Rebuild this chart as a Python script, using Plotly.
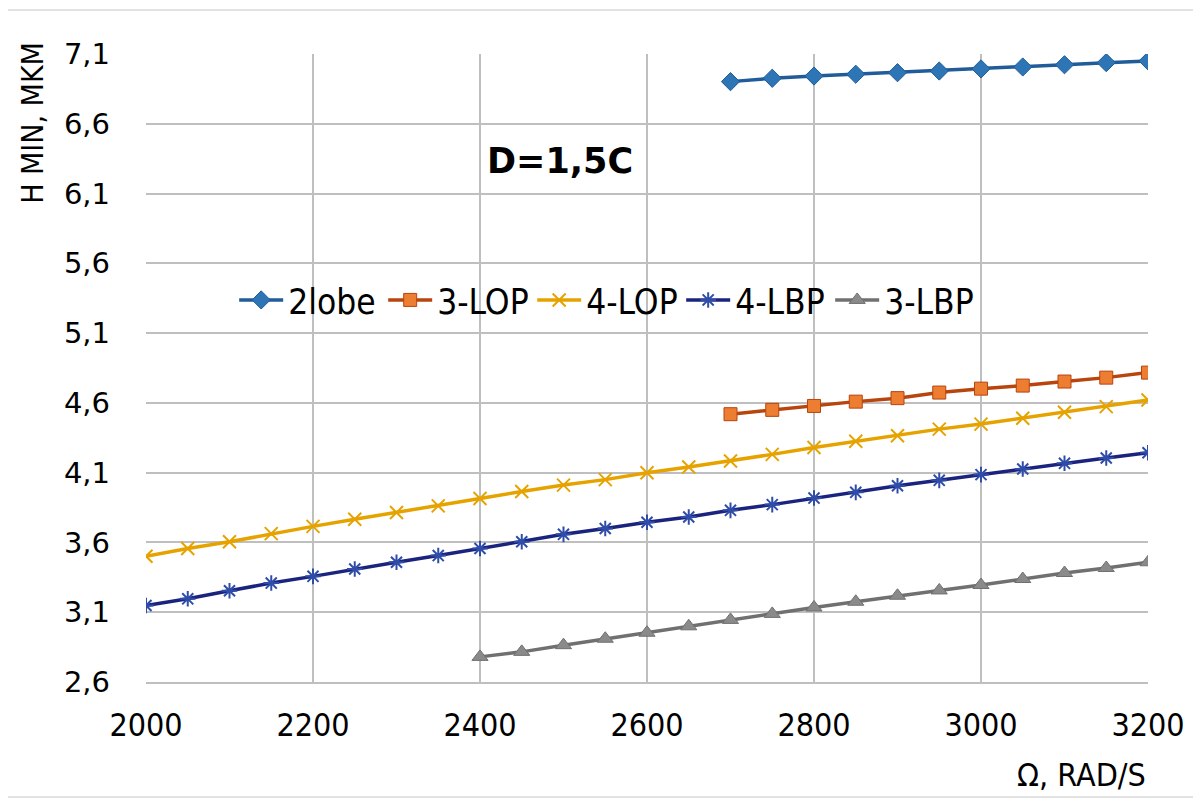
import plotly.graph_objects as go

# ---------------- data ----------------
x_2lobe = [2700, 2750, 2800, 2850, 2900, 2950, 3000, 3050, 3100, 3150, 3200]
y_2lobe = [6.902, 6.926, 6.942, 6.955, 6.966, 6.978, 6.993, 7.007, 7.023, 7.038, 7.050]

x_3lop = [2700, 2750, 2800, 2850, 2900, 2950, 3000, 3050, 3100, 3150, 3200]
y_3lop = [4.519, 4.550, 4.578, 4.609, 4.634, 4.674, 4.702, 4.724, 4.753, 4.781, 4.817]

x_4lop = [2000, 2050, 2100, 2150, 2200, 2250, 2300, 2350, 2400, 2450, 2500, 2550, 2600,
          2650, 2700, 2750, 2800, 2850, 2900, 2950, 3000, 3050, 3100, 3150, 3200]
y_4lop = [3.501, 3.557, 3.605, 3.663, 3.715, 3.766, 3.814, 3.862, 3.915, 3.965, 4.011, 4.050, 4.100,
          4.141, 4.184, 4.231, 4.280, 4.325, 4.365, 4.412, 4.448, 4.490, 4.533, 4.573, 4.621]

x_4lbp = [2000, 2050, 2100, 2150, 2200, 2250, 2300, 2350, 2400, 2450, 2500, 2550, 2600,
          2650, 2700, 2750, 2800, 2850, 2900, 2950, 3000, 3050, 3100, 3150, 3200]
y_4lbp = [3.148, 3.196, 3.254, 3.309, 3.357, 3.410, 3.458, 3.506, 3.557, 3.605, 3.658, 3.700, 3.745,
          3.782, 3.830, 3.871, 3.918, 3.959, 4.006, 4.045, 4.086, 4.126, 4.167, 4.205, 4.243]

x_3lbp = [2400, 2450, 2500, 2550, 2600, 2650, 2700, 2750, 2800, 2850, 2900, 2950, 3000,
          3050, 3100, 3150, 3200]
y_3lbp = [2.780, 2.816, 2.864, 2.910, 2.953, 2.999, 3.045, 3.088, 3.134, 3.175, 3.218, 3.256, 3.295,
          3.338, 3.381, 3.417, 3.458]

x_ticks = [2000, 2200, 2400, 2600, 2800, 3000, 3200]
y_ticks = [2.6, 3.1, 3.6, 4.1, 4.6, 5.1, 5.6, 6.1, 6.6, 7.1]
y_tick_text = ["2,6", "3,1", "3,6", "4,1", "4,6", "5,1", "5,6", "6,1", "6,6", "7,1"]

series_names = ["2lobe", "3-LOP", "4-LOP", "4-LBP", "3-LBP"]

# ---------------- figure ----------------
fig = go.Figure()

fig.add_trace(go.Scatter(
    x=x_2lobe, y=y_2lobe, name=series_names[0], mode="lines+markers",
    line=dict(color="#1F5C99", width=3.5),
    marker=dict(symbol="diamond", size=14, color="#2E75B6", line=dict(color="#1F5C99", width=1))))

fig.add_trace(go.Scatter(
    x=x_3lop, y=y_3lop, name=series_names[1], mode="lines+markers",
    line=dict(color="#B8440E", width=3.5),
    marker=dict(symbol="square", size=13, color="#ED7D31", line=dict(color="#B8440E", width=1))))

fig.add_trace(go.Scatter(
    x=x_4lop, y=y_4lop, name=series_names[2], mode="lines+markers",
    line=dict(color="#E6A300", width=3.5),
    marker=dict(symbol="x-thin-open", size=13, color="#E6A300", line=dict(color="#E6A300", width=2))))

fig.add_trace(go.Scatter(
    x=x_4lbp, y=y_4lbp, name=series_names[3], mode="lines+markers",
    line=dict(color="#1A237E", width=3.5),
    marker=dict(symbol="asterisk-open", size=13, color="#2F4DA8", line=dict(color="#2F4DA8", width=2))))

fig.add_trace(go.Scatter(
    x=x_3lbp, y=y_3lbp, name=series_names[4], mode="lines+markers",
    line=dict(color="#707070", width=3.5),
    marker=dict(symbol="triangle-up", size=14, color="#8A8A8A", line=dict(color="#707070", width=1))))

fig.update_layout(
    width=1193, height=790,
    margin=dict(l=138, r=53, t=46, b=116),
    paper_bgcolor="white", plot_bgcolor="white",
    showlegend=True,
    legend=dict(orientation="h", x=0.088, y=0.608, xanchor="left", yanchor="middle",
                bgcolor="rgba(0,0,0,0)",
                font=dict(family="DejaVu Sans Condensed", size=35, color="black"),
                itemwidth=44, tracegroupgap=0,
                entrywidth=90, entrywidthmode="pixels"),
    xaxis=dict(range=[2000, 3200], tickvals=x_ticks, showgrid=True, gridcolor="#BFBFBF", gridwidth=2,
               zeroline=False, showline=True, linecolor="#BFBFBF", linewidth=2, ticks="",
               tickfont=dict(family="DejaVu Sans Condensed", size=32, color="black"),
               ticklabelstandoff=14),
    yaxis=dict(range=[2.6, 7.1], tickvals=y_ticks, ticktext=y_tick_text, showgrid=True,
               gridcolor="#BFBFBF", gridwidth=2, zeroline=False, showline=False, ticks="",
               tickfont=dict(family="DejaVu Sans", size=29, color="black"),
               ticklabelstandoff=35),
    annotations=[
        dict(text="D=1,5C", xref="paper", yref="paper", x=0.413, y=0.83, showarrow=False,
             xanchor="center", yanchor="middle",
             font=dict(family="DejaVu Sans", size=35, color="black", weight="bold")),
        dict(text="H MIN, MKM", xref="paper", yref="paper", x=-0.114, y=0.89, showarrow=False,
             textangle=-90, xanchor="center", yanchor="middle",
             font=dict(family="DejaVu Sans Condensed", size=30, color="black")),
        dict(text="Ω, RAD/S", xref="paper", yref="paper", x=1.0, y=-0.148, showarrow=False,
             xanchor="right", yanchor="middle",
             font=dict(family="DejaVu Sans Condensed", size=32, color="black")),
    ],
    shapes=[
        dict(type="rect", xref="paper", yref="paper", x0=-0.1387, x1=1.0509, y0=-0.183, y1=1.070,
             line=dict(color="#D9D9D9", width=1.5), fillcolor="rgba(0,0,0,0)", layer="below"),
    ],
)

fig.write_html("out.html")
